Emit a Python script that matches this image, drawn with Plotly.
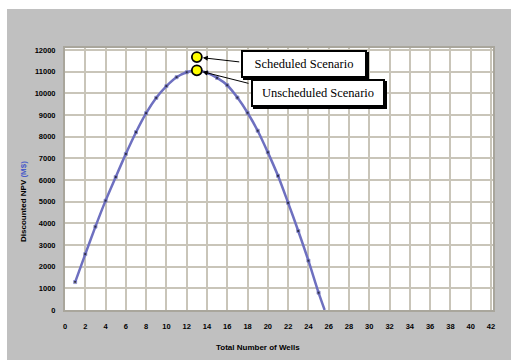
import plotly.graph_objects as go

# ---- data ----
wells = [1, 2, 3, 4, 5, 6, 7, 8, 9, 10, 11, 12, 13, 14, 15, 16, 17, 18, 19, 20,
         21, 22, 23, 24, 25, 25.6]
npv = [1290, 2580, 3850, 5050, 6140, 7210, 8210, 9090, 9800, 10340, 10750, 10980,
       11070, 10950, 10720, 10380, 9810, 9110, 8280, 7280, 6200, 4950, 3650, 2280,
       800, 0]
scenario_names = ["Scheduled Scenario", "Unscheduled Scenario"]
scenario_wells = [13, 13]
scenario_npv = [11680, 11070]
x_ticks = list(range(0, 43, 2))
y_ticks = list(range(0, 12001, 1000))

W, H = 511, 360
L, R, T, B = 65, 18, 48, 50
pw, ph = W - L - R, H - T - B

fig = go.Figure()

fig.add_trace(go.Scatter(
    x=wells, y=npv, mode="lines+markers",
    line=dict(color="#6e70c0", width=2.5, shape="spline", smoothing=0.8),
    marker=dict(symbol="square", color="#111111", size=[3] * (len(wells) - 1) + [0]),
    showlegend=False, hoverinfo="skip"))

fig.add_trace(go.Scatter(
    x=scenario_wells, y=scenario_npv, mode="markers",
    marker=dict(symbol="circle", color="#ffff00", size=10,
                line=dict(color="#000000", width=1.8)),
    showlegend=False, hoverinfo="skip"))

# gray chart background and white plot area
fig.add_shape(type="rect", xref="paper", yref="paper", layer="below",
              x0=(7 - L) / pw, x1=(W - L) / pw, y0=-(H - T - ph) / ph - 0.01,
              y1=(H - 9 - B) / ph, fillcolor="#c0c0c0", line=dict(width=0))
fig.add_shape(type="rect", xref="paper", yref="paper", layer="below",
              x0=0, x1=1, y0=0, y1=1, fillcolor="#ffffff", line=dict(width=0))

# arrows
arrow_starts = [(17.33, 11450), (18.24, 10450)]
for (sx, sy), xw, yv in zip(arrow_starts, scenario_wells, scenario_npv):
    fig.add_annotation(x=xw, y=yv, ax=sx, ay=sy, xref="x", yref="y",
                       axref="x", ayref="y", text="", showarrow=True,
                       arrowhead=2, arrowsize=1, arrowwidth=1, arrowcolor="#000000",
                       standoff=6)

# text boxes with shadow
box_pos = [(23.54, 11340, 118), (24.95, 10010, 126)]
serif = "Liberation Serif, Times New Roman, DejaVu Serif, serif"
for name, (bx, by, bw) in zip(scenario_names, box_pos):
    fig.add_annotation(x=bx, y=by, xref="x", yref="y", text="", showarrow=False,
                       width=bw, height=20, borderpad=2, borderwidth=2,
                       bordercolor="#000000", bgcolor="#000000", xshift=2, yshift=-2)
    fig.add_annotation(x=bx, y=by, xref="x", yref="y", text=name, showarrow=False,
                       width=bw, height=20, borderpad=2, borderwidth=2,
                       bordercolor="#000000", bgcolor="#ffffff",
                       font=dict(family=serif, size=12.5, color="#000000"))

# axis titles
fig.add_annotation(x=(258 - L) / pw, y=-(347 - T - ph) / ph, xref="paper", yref="paper",
                   xanchor="center", yanchor="middle",
                   text="Total Number of Wells", showarrow=False,
                   font=dict(family="Liberation Sans", size=8, color="#000000", weight="bold"))
fig.add_annotation(x=(23 - L) / pw, y=(H - B - 202) / ph, xref="paper", yref="paper",
                   xanchor="center", yanchor="middle",
                   text="Discounted NPV <span style='color:#4a5cc8'>(M$)</span>",
                   textangle=-90, showarrow=False,
                   font=dict(family="Liberation Sans", size=8, color="#000000", weight="bold"))

axis_common = dict(showgrid=True, gridcolor="#c9c5b9", gridwidth=2,
                   showline=True, linecolor="#a9a69c", linewidth=2, mirror=True,
                   zeroline=False, ticks="", tickformat="d",
                   tickfont=dict(family="Liberation Sans", size=7.5, color="#000000",
                                 weight="bold"))

fig.update_xaxes(range=[0, 42.2], tickvals=x_ticks, ticklabelstandoff=8, **axis_common)
fig.update_yaxes(range=[0, 12100], tickvals=y_ticks, ticklabelstandoff=6, **axis_common)

fig.update_layout(width=W, height=H, margin=dict(l=L, r=R, t=T, b=B),
                  paper_bgcolor="#ffffff", plot_bgcolor="#ffffff")

fig.write_html("out.html")
